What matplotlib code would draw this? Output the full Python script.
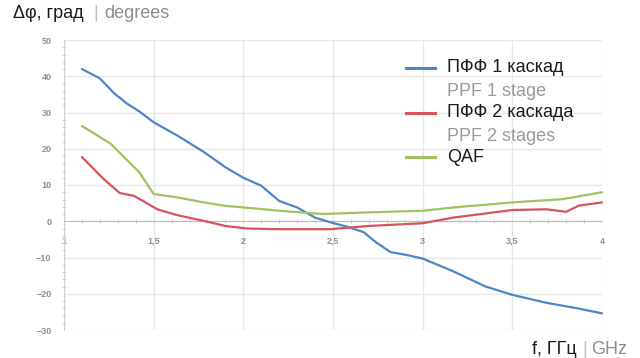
import matplotlib
matplotlib.use("Agg")
import matplotlib.pyplot as plt
from matplotlib.lines import Line2D
from matplotlib.ticker import MultipleLocator, FuncFormatter

plt.rcParams['font.family'] = ['Liberation Sans', 'DejaVu Sans']

# Phase difference vs frequency
x_ppf1 = [1.1, 1.2, 1.28, 1.35, 1.42, 1.5, 1.63, 1.78, 1.9, 2.0, 2.1, 2.2, 2.3,
          2.4, 2.5, 2.58, 2.67, 2.74, 2.82, 2.91, 3.0, 3.17, 3.35, 3.5, 3.69, 3.86, 4.0]
y_ppf1 = [42.0, 39.4, 35.3, 32.5, 30.3, 27.3, 23.7, 19.1, 14.9, 12.0, 9.8, 5.6, 3.8,
          1.0, -0.5, -1.5, -3.0, -5.8, -8.5, -9.3, -10.3, -13.8, -18.0, -20.3, -22.5, -24.0, -25.4]

x_ppf2 = [1.1, 1.22, 1.31, 1.39, 1.44, 1.52, 1.63, 1.78, 1.9, 2.02, 2.2, 2.48,
          2.7, 3.0, 3.17, 3.5, 3.69, 3.8, 3.87, 4.0]
y_ppf2 = [17.7, 11.7, 7.8, 7.0, 5.6, 3.3, 1.7, 0.1, -1.3, -2.0, -2.2, -2.2,
          -1.3, -0.55, 1.0, 3.1, 3.3, 2.6, 4.3, 5.2]

x_qaf = [1.1, 1.26, 1.42, 1.5, 1.63, 1.78, 1.9, 2.07, 2.2, 2.44, 2.67, 3.0,
         3.17, 3.5, 3.78, 4.0]
y_qaf = [26.3, 21.4, 13.5, 7.5, 6.6, 5.2, 4.25, 3.5, 2.9, 2.0, 2.4, 2.9,
         3.8, 5.2, 6.1, 8.0]

x_ticks = [1, 1.5, 2, 2.5, 3, 3.5, 4]
y_ticks = [-30, -20, -10, 0, 10, 20, 30, 40, 50]

series_ru = ["ПФФ 1 каскад", "ПФФ 2 каскада", "QAF"]
series_en = ["PPF 1 stage", "PPF 2 stages", None]
colors = ["#4d86c6", "#d6545c", "#9dc25e"]

fig = plt.figure(figsize=(6.4, 3.58), dpi=100)
ax = fig.add_axes([64 / 640, 1 - 330 / 358, (602 - 64) / 640, (330 - 40) / 358])

ax.set_xlim(1, 4)
ax.set_ylim(-30, 50)

for xs, ys, c in zip([x_ppf1, x_ppf2, x_qaf], [y_ppf1, y_ppf2, y_qaf], colors):
    ax.plot(xs, ys, color=c, lw=1.6, solid_capstyle='round', zorder=3, clip_on=False)

# axes styling
for s in ['top', 'right']:
    ax.spines[s].set_visible(False)
ax.spines['bottom'].set_position(('data', 0))
ax.spines['bottom'].set_color('#bdbdbd')
ax.spines['left'].set_color('#d0d0d0')
ax.spines['bottom'].set_linewidth(0.8)
ax.spines['left'].set_linewidth(0.8)

ax.set_xticks(x_ticks)
ax.set_yticks(y_ticks)
ax.xaxis.set_minor_locator(MultipleLocator(0.1))
ax.yaxis.set_minor_locator(MultipleLocator(2))

fmt = FuncFormatter(lambda v, p: ('%g' % v).replace('.', ','))
ax.xaxis.set_major_formatter(fmt)
ax.tick_params(axis='x', which='major', length=0, pad=11, labelsize=6.5, labelcolor='#8f8f8f')
ax.tick_params(axis='x', which='minor', length=2.5, color='#c8c8c8', direction='inout')
ax.tick_params(axis='y', which='major', length=0, pad=9, labelsize=6.5, labelcolor='#8f8f8f')
ax.tick_params(axis='y', which='minor', length=2.5, color='#c8c8c8', direction='inout')
for lab in ax.get_xticklabels() + ax.get_yticklabels():
    lab.set_fontweight('bold')

ax.grid(True, which='major', color='#e8e8e8', lw=1.0, zorder=0)
ax.set_axisbelow(True)

# titles
FS = 13
fig.text(13 / 640, 1 - 13 / 358, "Δφ, град", fontsize=FS, color='#1a1a1a', va='center', ha='left')
fig.text(93 / 640, 1 - 13 / 358, "|", fontsize=FS, color='#c0c0c0', va='center', ha='left')
fig.text(104 / 640, 1 - 13 / 358, "degrees", fontsize=FS, color='#8c8c8c', va='center', ha='left')

fig.text(627 / 640, 1 - 349 / 358, "GHz", fontsize=FS, color='#8c8c8c', va='center', ha='right')
fig.text(587 / 640, 1 - 349 / 358, "|", fontsize=FS, color='#c0c0c0', va='center', ha='right')
fig.text(577 / 640, 1 - 349 / 358, "f, ГГц", fontsize=FS, color='#1a1a1a', va='center', ha='right')

# legend
line_rows = [68, 113, 157]
for i, (ru, en, c) in enumerate(zip(series_ru, series_en, colors)):
    yp = line_rows[i]
    fig.add_artist(Line2D([406 / 640, 435 / 640], [1 - yp / 358] * 2, color=c, lw=2.2,
                          transform=fig.transFigure))
    fig.text(447 / 640, 1 - yp / 358, ru, fontsize=FS, color='#1a1a1a', va='center', ha='left')
    if en:
        fig.text(447 / 640, 1 - (yp + 23) / 358, en, fontsize=FS, color='#9a9a9a',
                 va='center', ha='left')

fig.savefig("out.png", dpi=100)
